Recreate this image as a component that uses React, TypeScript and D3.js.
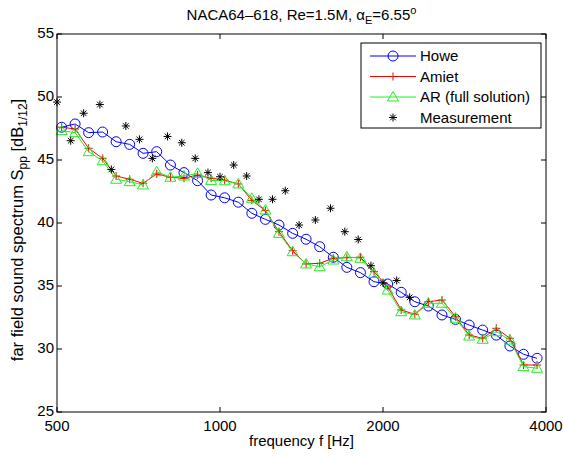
import React from "react";
import * as d3 from "d3";

const modelFreq = [510, 540, 572, 607, 643, 681, 721, 764, 810, 858, 909, 963, 1020, 1081, 1145, 1213, 1285, 1362, 1442, 1528, 1619, 1715, 1817, 1925, 2040, 2161, 2290, 2426, 2570, 2723, 2885, 3056, 3238, 3431, 3635, 3851];
const howe = [47.6, 47.86, 47.17, 47.22, 46.45, 46.24, 45.53, 45.66, 44.6, 44.0, 43.36, 42.22, 42.0, 41.65, 40.77, 40.29, 39.84, 39.18, 38.71, 38.12, 37.28, 36.48, 36.06, 35.34, 35.16, 34.5, 33.75, 33.41, 32.7, 32.35, 31.9, 31.5, 31.1, 30.24, 29.58, 29.26];
const amiet = [47.6, 47.46, 45.93, 45.13, 43.73, 43.47, 43.15, 43.89, 43.63, 43.55, 43.8, 43.55, 43.4, 43.1, 41.8, 40.98, 39.31, 37.8, 36.75, 36.8, 37.2, 37.25, 37.28, 36.14, 34.95, 33.1, 32.75, 33.75, 33.89, 32.56, 31.11, 30.85, 31.64, 30.85, 28.73, 28.73];
const arFull = [47.33, 47.17, 45.66, 44.94, 43.47, 43.28, 43.02, 44.07, 43.63, 43.73, 43.94, 43.38, 43.35, 43.1, 41.96, 41.03, 39.18, 37.72, 36.75, 36.53, 37.06, 37.32, 37.2, 36.0, 34.68, 32.96, 32.7, 33.63, 33.63, 32.44, 31.03, 30.77, 31.37, 30.71, 28.6, 28.47];
const measFreq = [500, 530, 560, 600, 630, 670, 710, 750, 800, 850, 900, 950, 1000, 1060, 1120, 1180, 1250, 1320, 1400, 1500, 1600, 1700, 1800, 1900, 2000, 2120, 2240];
const measurement = [49.6, 46.53, 48.71, 49.4, 44.25, 47.7, 46.64, 45.13, 46.87, 46.37, 45.13, 44.0, 43.67, 44.6, 43.73, 41.88, 41.88, 42.56, 39.84, 40.24, 41.17, 39.31, 38.69, 36.61, 35.26, 35.44, 34.1];
const xTicks = [500, 1000, 2000, 4000];
const yTicks = [25, 30, 35, 40, 45, 50, 55];

const W = 563, H = 457;
const L = 57, R = 546, T = 34, B = 412;
const FONT = "'Liberation Sans', Arial, Helvetica, sans-serif";
const BLUE = "#0000ff", RED = "#ff0000", GREEN = "#22ee22";

const Circle = ({ x, y, c }) => <circle cx={x} cy={y} r={5} fill="none" stroke={c} strokeWidth={1} />;
const Plus = ({ x, y, c }) => (
  <path d={`M${x - 4},${y}H${x + 4}M${x},${y - 4}V${y + 4}`} stroke={c} strokeWidth={1} />
);
const Tri = ({ x, y, c }) => (
  <path d={`M${x},${y - 5.5}L${x + 5.5},${y + 4}L${x - 5.5},${y + 4}Z`} fill="none" stroke={c} strokeWidth={1} />
);
const Star = ({ x, y, c }) => (
  <path d={`M${x - 4},${y}H${x + 4}M${x},${y - 4}V${y + 4}M${x - 2.8},${y - 2.8}L${x + 2.8},${y + 2.8}M${x - 2.8},${y + 2.8}L${x + 2.8},${y - 2.8}`} stroke={c} strokeWidth={1} />
);

export default function App() {
  const x = d3.scaleLog().domain([500, 4000]).range([L, R]);
  const y = d3.scaleLinear().domain([25, 55]).range([B, T]);
  const line = (fs: number[], vs: number[]) =>
    d3.line<number>().x((_, i) => x(fs[i])).y((v) => y(v))(vs) || "";

  const legend = [
    { label: "Howe", c: BLUE, M: Circle, line: true },
    { label: "Amiet", c: RED, M: Plus, line: true },
    { label: "AR (full solution)", c: GREEN, M: Tri, line: true },
    { label: "Measurement", c: "#000", M: Star, line: false },
  ];

  return (
    <svg width={W} height={H} style={{ position: "absolute", left: 0, top: 0, background: "#fff" }} fontFamily={FONT}>
      <rect x={0} y={0} width={W} height={H} fill="#fff" />
      {/* title */}
      <text x={(L + R) / 2} y={20} textAnchor="middle" fontSize={15} fill="#000">
        NACA64–618, Re=1.5M, α<tspan fontSize={11} dy={4}>E</tspan><tspan dy={-4}>=6.55</tspan><tspan fontSize={11} dy={-6}>o</tspan>
      </text>
      {/* ticks */}
      {xTicks.map((t) => (
        <g key={"x" + t}>
          <line x1={x(t)} x2={x(t)} y1={B} y2={B - 5} stroke="#000" />
          <line x1={x(t)} x2={x(t)} y1={T} y2={T + 5} stroke="#000" />
          <text x={x(t)} y={431} textAnchor="middle" fontSize={15} fill="#000">{t}</text>
        </g>
      ))}
      {yTicks.map((t) => (
        <g key={"y" + t}>
          <line x1={L} x2={L + 5} y1={y(t)} y2={y(t)} stroke="#000" />
          <line x1={R} x2={R - 5} y1={y(t)} y2={y(t)} stroke="#000" />
          <text x={54} y={y(t) + 4} textAnchor="end" fontSize={15} fill="#000">{t}</text>
        </g>
      ))}
      {/* series */}
      <path d={line(modelFreq, howe)} fill="none" stroke={BLUE} strokeWidth={1} />
      {howe.map((v, i) => <Circle key={"h" + i} x={x(modelFreq[i])} y={y(v)} c={BLUE} />)}
      <path d={line(modelFreq, amiet)} fill="none" stroke={RED} strokeWidth={1} />
      {amiet.map((v, i) => <Plus key={"a" + i} x={x(modelFreq[i])} y={y(v)} c={RED} />)}
      <path d={line(modelFreq, arFull)} fill="none" stroke={GREEN} strokeWidth={1} />
      {arFull.map((v, i) => <Tri key={"r" + i} x={x(modelFreq[i])} y={y(v)} c={GREEN} />)}
      {measurement.map((v, i) => <Star key={"m" + i} x={x(measFreq[i])} y={y(v)} c="#000" />)}
      {/* frame */}
      <rect x={L} y={T} width={R - L} height={B - T} fill="none" stroke="#000" strokeWidth={1} />
      {/* legend */}
      <rect x={361} y={43} width={180} height={85} fill="#fff" stroke="#000" strokeWidth={1} />
      {legend.map((e, i) => {
        const ly = 56 + i * 20.5;
        const M = e.M;
        return (
          <g key={e.label}>
            {e.line && <line x1={370} x2={416} y1={ly} y2={ly} stroke={e.c} strokeWidth={1} />}
            <M x={393} y={ly} c={e.c} />
            <text x={420} y={ly + 5} fontSize={15} fill="#000">{e.label}</text>
          </g>
        );
      })}
      {/* axis labels */}
      <text x={(L + R) / 2} y={446} textAnchor="middle" fontSize={15} fill="#000">frequency f [Hz]</text>
      <text transform={`translate(23,230) rotate(-90)`} textAnchor="middle" fontSize={16.5} fill="#000">
        far field sound spectrum S<tspan fontSize={12} dy={4}>pp</tspan><tspan dy={-4}> [dB</tspan><tspan fontSize={12} dy={4}>1/12</tspan><tspan dy={-4}>]</tspan>
      </text>
    </svg>
  );
}
